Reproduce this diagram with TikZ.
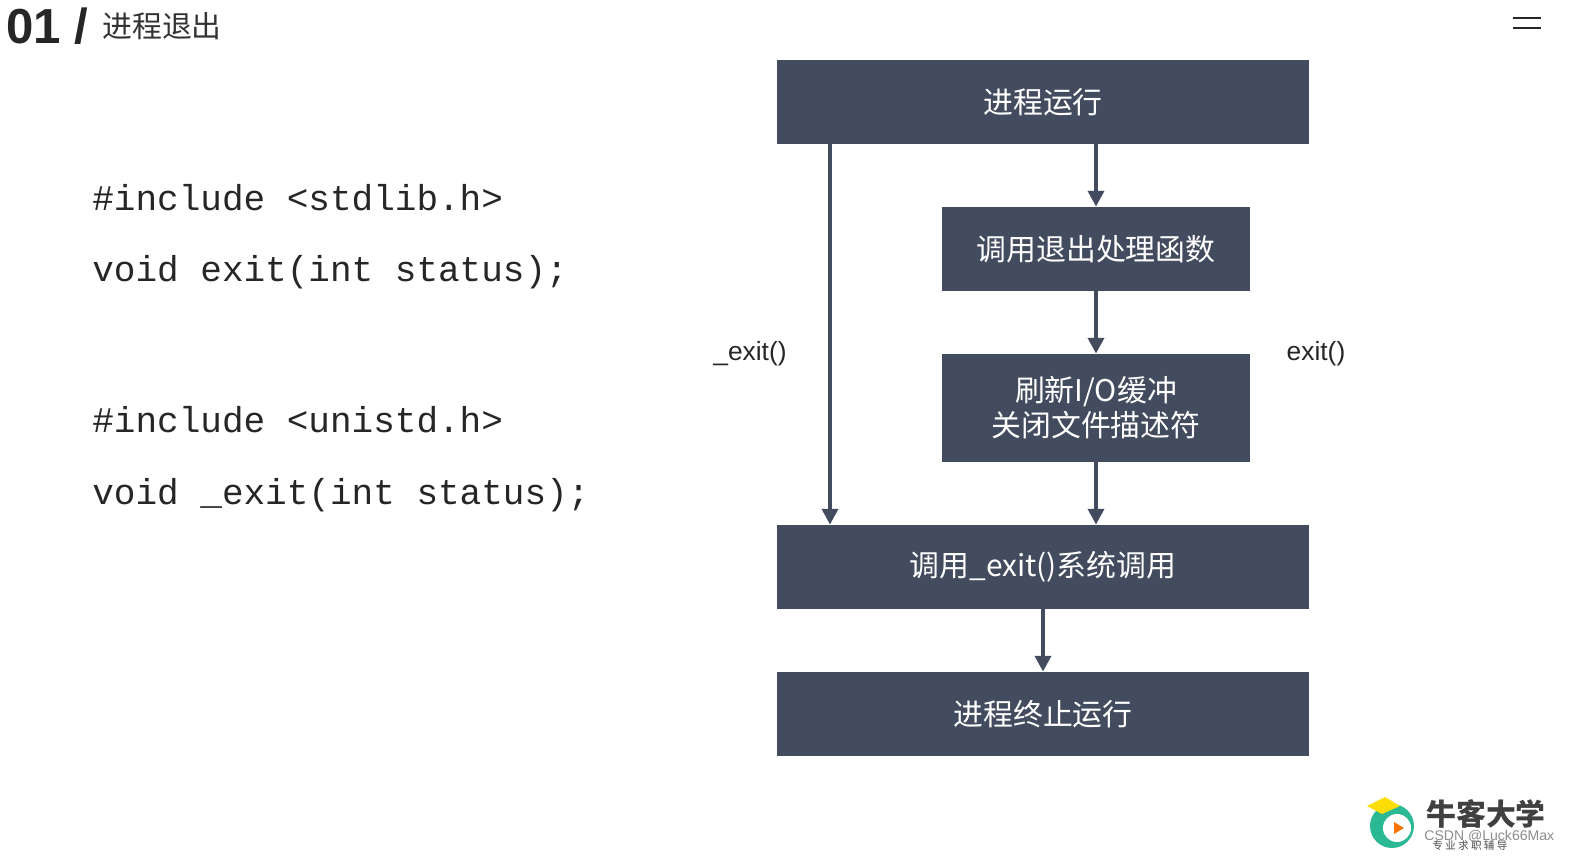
\documentclass[tikz,border=0pt]{standalone}
\usepackage{fontspec}
\setmainfont{Liberation Sans}
\setmonofont{Liberation Mono}
\newfontfamily\cjk{Noto Sans CJK SC}
\usetikzlibrary{arrows.meta}
\definecolor{slate}{HTML}{434C5E}
\definecolor{logogreen}{HTML}{2BB894}
\begin{document}
\begin{tikzpicture}[x=0.02cm, y=-0.02cm,
    stepbox/.style={fill=slate, text=white, font=\cjk\fontsize{17}{20}\selectfont, align=center, inner sep=0pt},
    flow/.style={slate, line width=2.2pt, -{Triangle[length=9pt, width=9pt]}},
    code/.style={anchor=west, font=\ttfamily\fontsize{20.5}{24}\selectfont, inner sep=0pt, text=black!85}]

    % Title
    \node[anchor=west, inner sep=0pt, font=\bfseries\fontsize{28}{30}\selectfont, text=black!85] (num) at (6,26) {01 /};
    \node[anchor=west, inner sep=0pt, font=\cjk\fontsize{17}{20}\selectfont, text=black!80] (title) at (102,26) {进程退出};
    \foreach \y in {18,28} {
        \draw[black!85, line width=1.5pt] (1513,\y) -- (1541,\y);
    }

    % Code
    \node[code] (inc1) at (92,198) {\#include <stdlib.h>};
    \node[code] (fn1) at (92,272) {void exit(int status);};
    \node[code] (inc2) at (92,420) {\#include <unistd.h>};
    \node[code] (fn2) at (92,495) {void \_exit(int status);};

    % Boxes
    \node[stepbox, minimum width=10.64cm, minimum height=1.68cm] (run) at (1043,102) {进程运行};
    \node[stepbox, minimum width=6.16cm, minimum height=1.68cm] (handler) at (1096,249) {调用退出处理函数};
    \node[stepbox, minimum width=6.16cm, minimum height=2.16cm] (flush) at (1096,408) {刷新I/O缓冲\\关闭文件描述符};
    \node[stepbox, minimum width=10.64cm, minimum height=1.68cm] (sys) at (1043,567) {调用\_exit()系统调用};
    \node[stepbox, minimum width=10.64cm, minimum height=1.68cm] (stop) at (1043,714) {进程终止运行};

    % Arrows
    \draw[flow] (handler.north |- run.south) -- (handler.north);
    \draw[flow] (handler.south) -- (flush.north);
    \draw[flow] (flush.south) -- (flush.south |- sys.north);
    \draw[flow] (sys.south) -- (stop.north);
    \coordinate (left) at (830,144);
    \draw[flow] (left) -- (left |- sys.north);

    % Labels
    \node[font=\fontsize{15}{18}\selectfont, text=black!85] (lexit) at (750,354) {\_exit()};
    \node[font=\fontsize{15}{18}\selectfont, text=black!85] (rexit) at (1316,354) {exit()};

    % Logo
    \fill[logogreen] (1392,826) circle (22);
    \fill[white] (1397,828) circle (14);
    \fill[orange!90!red] (1394,822) -- (1394,834) -- (1404,828) -- cycle;
    \fill[yellow!80!orange] (1367,806) -- (1385,797) -- (1400,806) -- (1382,814) -- cycle;
    \node[anchor=west, inner sep=0pt, font=\cjk\bfseries\fontsize{17}{20}\selectfont, text=black!75] (brand) at (1426,814) {牛客大学};
    \node[anchor=west, inner sep=0pt, font=\cjk\fontsize{6}{7}\selectfont, text=black!70] (slogan) at (1432,845) {专\ 业\ 求\ 职\ 辅\ 导};
    \node[anchor=west, inner sep=0pt, font=\fontsize{8}{9}\selectfont, text=black!45] (mark) at (1424,836) {CSDN @Luck66Max};

    \pgfresetboundingbox
    \useasboundingbox (0,0) rectangle (1587,863);
\end{tikzpicture}
\end{document}
